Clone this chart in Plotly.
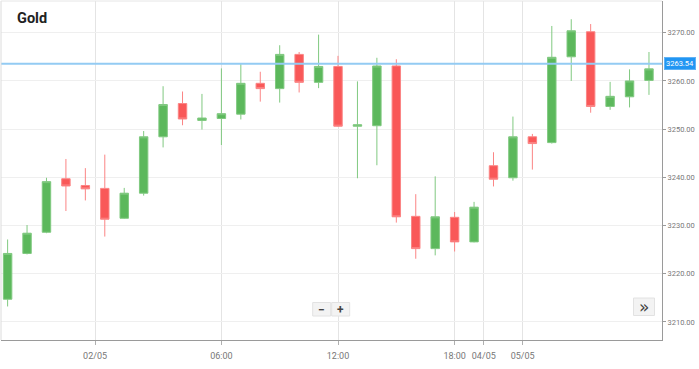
import plotly.graph_objects as go

# ---- data (hourly candles) ----
candle_index = list(range(34))
opens  = [3214.7, 3224.2, 3228.6, 3239.7, 3238.3, 3237.7, 3231.5, 3236.7, 3248.4, 3255.3,
          3251.8, 3252.2, 3253.1, 3259.5, 3258.4, 3265.5, 3259.7, 3263.0, 3250.6, 3250.7,
          3263.1, 3231.9, 3225.2, 3231.7, 3226.6, 3242.4, 3239.9, 3248.4, 3247.2, 3265.0,
          3270.2, 3254.7, 3256.7, 3260.1]
highs  = [3227.1, 3230.1, 3239.9, 3243.8, 3241.9, 3244.7, 3237.8, 3249.6, 3258.9, 3257.8,
          3257.3, 3262.6, 3263.6, 3261.9, 3267.4, 3266.0, 3269.6, 3265.2, 3259.9, 3264.8,
          3264.5, 3236.5, 3240.2, 3232.8, 3234.9, 3245.2, 3252.6, 3249.0, 3271.4, 3272.8,
          3271.8, 3259.8, 3262.4, 3266.0]
lows   = [3213.2, 3224.0, 3228.4, 3233.0, 3235.2, 3227.7, 3231.4, 3236.2, 3246.2, 3250.8,
          3249.9, 3246.7, 3252.0, 3255.7, 3255.5, 3257.6, 3258.5, 3250.5, 3239.8, 3242.5,
          3230.6, 3223.1, 3223.8, 3224.6, 3226.5, 3238.1, 3239.3, 3241.6, 3247.0, 3260.0,
          3253.4, 3254.0, 3254.5, 3257.1]
closes = [3224.2, 3228.4, 3239.1, 3238.2, 3237.6, 3231.3, 3236.7, 3248.4, 3255.1, 3252.1,
          3252.3, 3253.2, 3259.5, 3258.4, 3265.5, 3259.7, 3263.0, 3250.6, 3250.9, 3263.1,
          3231.8, 3225.2, 3231.8, 3226.6, 3233.8, 3239.6, 3248.4, 3247.0, 3264.9, 3270.4,
          3254.7, 3256.8, 3260.0, 3262.5]
current_price = 3263.54

tick_positions = [4.5, 11, 17, 23, 24.5, 26.5]
tick_labels = ["02/05", "06:00", "12:00", "18:00", "04/05", "05/05"]
price_ticks = [3210, 3220, 3230, 3240, 3250, 3260, 3270]

W, H = 699, 369
ML, MR, MT, MB = 1, 37, 1, 29
plot_w = W - ML - MR
plot_h = H - MT - MB


def px_x(p):
    return (p - ML) / plot_w


def px_y(p):
    return (H - MB - p) / plot_h


fig = go.Figure()
fig.add_trace(go.Candlestick(
    x=candle_index, open=opens, high=highs, low=lows, close=closes,
    increasing=dict(line=dict(color="#80c980", width=1), fillcolor="#5cb85c"),
    decreasing=dict(line=dict(color="#fb8585", width=1), fillcolor="#f95858"),
    whiskerwidth=0, showlegend=False,
))

# current price line
fig.add_hline(y=current_price, line=dict(color="#93cbf3", width=2), layer="above")

fig.add_annotation(
    x=1, xref="paper", y=current_price, yref="y", xanchor="left", yanchor="middle", xshift=2,
    text=f"{current_price:.2f}", showarrow=False,
    font=dict(family="Roboto, Arial, sans-serif", size=7.5, color="white"),
    bgcolor="#2196f3", bordercolor="#5fb2f5", borderwidth=1, borderpad=1,
)

# title
fig.add_annotation(
    x=px_x(15), xref="paper", y=px_y(18), yref="paper", xanchor="left", yanchor="middle",
    text="<b>Gold</b>", showarrow=False,
    font=dict(family="Roboto, Arial, sans-serif", size=14.5, color="#222222"),
)

# zoom controls
for label, cx in (("−", 321.7), ("+", 340.7)):
    fig.add_shape(type="rect", xref="paper", yref="paper",
                  x0=px_x(cx - 9), x1=px_x(cx + 9), y0=px_y(316), y1=px_y(302.5),
                  fillcolor="#f3f3f3", line=dict(color="#e2e2e2", width=1), layer="above")
    fig.add_annotation(x=px_x(cx), xref="paper", y=px_y(309.5), yref="paper",
                       xanchor="center", yanchor="middle",
                       text=f"<b>{label}</b>", showarrow=False,
                       font=dict(family="Roboto, Arial, sans-serif", size=12, color="#444"))
fig.add_shape(type="rect", xref="paper", yref="paper",
              x0=px_x(633.5), x1=px_x(654.5), y0=px_y(315.5), y1=px_y(298),
              fillcolor="#f3f3f3", line=dict(color="#e2e2e2", width=1), layer="above")
fig.add_annotation(x=px_x(644), xref="paper", y=px_y(306.5), yref="paper",
                   xanchor="center", yanchor="middle",
                   text="»", showarrow=False,
                   font=dict(family="DejaVu Sans, sans-serif", size=17, color="#444"))

# outer border lines (left / top)
fig.add_shape(type="line", xref="paper", yref="paper", x0=0, x1=0, y0=0, y1=1,
              line=dict(color="#dcdcdc", width=1))
fig.add_shape(type="line", xref="paper", yref="paper", x0=0, x1=1, y0=1, y1=1,
              line=dict(color="#e6e6e6", width=1))

fig.update_layout(
    width=W, height=H,
    margin=dict(l=ML, r=MR, t=MT, b=MB),
    paper_bgcolor="white", plot_bgcolor="white",
    boxgap=0.38,
    showlegend=False,
    xaxis=dict(
        range=[-0.34, 33.67], rangeslider=dict(visible=False),
        tickmode="array", tickvals=tick_positions, ticktext=tick_labels,
        showgrid=True, gridcolor="#e4e4e4", gridwidth=1,
        showline=True, linecolor="#9a9a9a", linewidth=1,
        ticks="outside", ticklen=4, tickcolor="#b0b0b0", ticklabelstandoff=3,
        tickfont=dict(family="Roboto, Arial, sans-serif", size=9, color="#777777"),
        zeroline=False, fixedrange=True,
    ),
    yaxis=dict(
        side="right", range=[3206.24, 3276.58],
        tickmode="array", tickvals=price_ticks, tickformat=".2f",
        showgrid=True, gridcolor="#efefef", gridwidth=1,
        showline=True, linecolor="#9a9a9a", linewidth=1,
        ticks="outside", ticklen=3, tickcolor="#9a9a9a",
        tickfont=dict(family="Roboto, Arial, sans-serif", size=7.5, color="#777777"),
        zeroline=False, fixedrange=True,
    ),
)

fig.write_html(
    "out.html",
    config={"displayModeBar": False},
    post_script="document.body.style.margin='0';document.body.style.overflow='hidden';",
)
